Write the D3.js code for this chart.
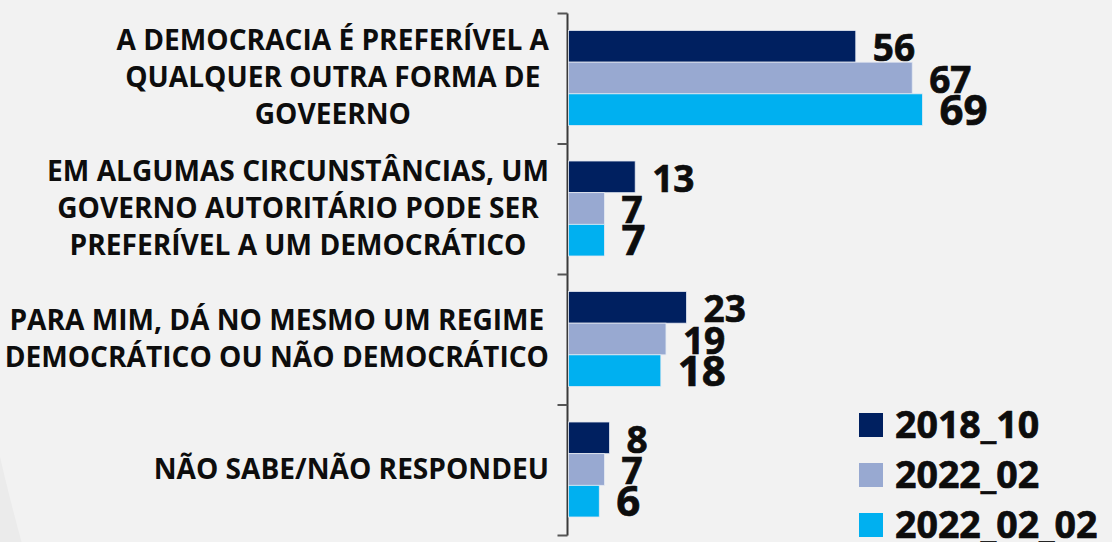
<!DOCTYPE html>
<html>
<head>
<meta charset="utf-8">
<script src="https://cdn.jsdelivr.net/npm/d3@7/dist/d3.min.js"></script>
<style>
  html, body { margin: 0; padding: 0; background: #ebebeb; }
  svg { display: block; }
  text { font-family: "Open Sans", "Noto Sans", sans-serif; font-weight: 700; fill: #0d0d0d; }
  .heavy { stroke: #0d0d0d; stroke-width: 0.7; }
</style>
</head>
<body>
<svg id="chart" width="1112" height="542"></svg>
<script>
// Response options (each split into the lines shown beside the axis)
const categories = [
  ["A DEMOCRACIA É PREFERÍVEL A", "QUALQUER OUTRA FORMA DE", "GOVEERNO"],
  ["EM ALGUMAS CIRCUNSTÂNCIAS, UM", "GOVERNO AUTORITÁRIO PODE SER", "PREFERÍVEL A UM DEMOCRÁTICO"],
  ["PARA MIM, DÁ NO MESMO UM REGIME", "DEMOCRÁTICO OU NÃO DEMOCRÁTICO"],
  ["NÃO SABE/NÃO RESPONDEU"]
];
const seriesNames = ["2018_10", "2022_02", "2022_02_02"];
const values2018_10    = [56, 13, 23, 8];
const values2022_02    = [67, 7, 19, 7];
const values2022_02_02 = [69, 7, 18, 6];
const seriesColors = ["#002060", "#98a9d1", "#00b0f0"];

const seriesValues = [values2018_10, values2022_02, values2022_02_02];
const catKeys = categories.map(c => c.join(" "));

const svg = d3.select("#chart");
const W = 1112, H = 542;

// Background with the soft curved panel
svg.append("rect").attr("width", W).attr("height", H).attr("fill", "#ebebeb");
svg.append("circle").attr("cx", 1949).attr("cy", 8).attr("r", 2000).attr("fill", "#f2f2f2");

// Scales
const axisX = 567.5;
const x = d3.scaleLinear().domain([0, 100]).range([568.5, 568.5 + 513]);
const y = d3.scaleBand().domain(catKeys).range([13.5, 535.5]).paddingInner(0).paddingOuter(0);
const y1 = d3.scaleBand().domain(seriesNames).range([17, 17 + 95]).padding(0);

// Category axis: line plus ticks on band boundaries
const axisG = svg.append("g");
axisG.append("line")
  .attr("x1", axisX).attr("x2", axisX)
  .attr("y1", y.range()[0]).attr("y2", y.range()[1])
  .attr("stroke", "#3a3a3a").attr("stroke-width", 2);
const tickYs = catKeys.map(k => y(k)).concat([y.range()[1]]);
axisG.selectAll("line.tick").data(tickYs).join("line")
  .attr("class", "tick")
  .attr("x1", axisX - 10).attr("x2", axisX)
  .attr("y1", d => d).attr("y2", d => d)
  .attr("stroke", "#555").attr("stroke-width", 2);

// Bars with value labels
const groups = svg.append("g").selectAll("g").data(catKeys).join("g")
  .attr("transform", k => `translate(0,${y(k)})`);

groups.each(function(k, ci) {
  const g = d3.select(this);
  seriesNames.forEach((s, si) => {
    const v = seriesValues[si][ci];
    g.append("rect")
      .attr("x", x(0))
      .attr("y", y1(s))
      .attr("width", x(v) - x(0))
      .attr("height", y1.bandwidth())
      .attr("fill", seriesColors[si])
      .attr("stroke", "#e4e9f2").attr("stroke-width", 0.8);
    g.append("text")
      .attr("class", "heavy")
      .attr("x", x(v) + 17)
      .attr("y", y1(s) + y1.bandwidth() - 1)
      .attr("font-size", si === 2 ? 42 : 37)
      .text(v);
  });
});

// Category labels: block right-aligned to the axis, lines centred within the block
const labelRight = 549;
const catFont = 28;
const lineGap = 37;
const labelG = svg.append("g");
// Horizontal condensing factor so the longest label fits its space
const probe = labelG.append("text").attr("font-size", catFont).text("PARA MIM, DÁ NO MESMO UM REGIME");
const condense = 535 / probe.node().getComputedTextLength();
probe.remove();

categories.forEach((lines, ci) => {
  const cy = y(catKeys[ci]) + y.bandwidth() / 2 - 1.5;
  const block = labelG.append("g");
  const texts = lines.map((ln, li) =>
    block.append("text")
      .attr("font-size", catFont)
      .attr("text-anchor", "middle")
      .attr("y", cy + (li - (lines.length - 1) / 2) * lineGap + 10)
      .text(ln)
  );
  const maxW = d3.max(texts, t => t.node().getComputedTextLength()) * condense;
  const centerX = labelRight - maxW / 2;
  block.attr("transform", `translate(${centerX},0) scale(${condense},1)`);
});

// Legend
const legend = svg.append("g").selectAll("g").data(seriesNames).join("g")
  .attr("transform", (d, i) => `translate(859,${413 + i * 50})`);
legend.append("rect").attr("width", 24).attr("height", 24).attr("fill", (d, i) => seriesColors[i]);
legend.append("text").attr("class", "heavy").attr("x", 36).attr("y", 24.5).attr("font-size", 37.5).text(d => d);
</script>
</body>
</html>
